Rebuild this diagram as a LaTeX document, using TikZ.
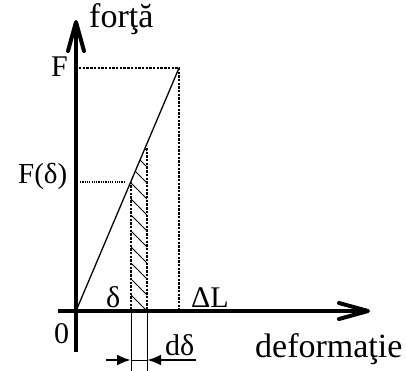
\documentclass[tikz,border=0pt]{standalone}
\usepackage{fontspec}
\setmainfont{Liberation Serif}
\usetikzlibrary{arrows.meta}
\begin{document}
\begin{tikzpicture}[x=1pt,y=-1pt,
  axis/.style={line width=4pt,-{Straight Barb[length=29pt,width=16pt,round]}},
  guide/.style={line width=1.1pt,dash pattern=on 2.4pt off 1.3pt},
  dotguide/.style={line width=1.1pt,dash pattern=on 1.2pt off 1.1pt},
  hatch/.style={line width=0.9pt},
  thin/.style={line width=1pt},
  dimarrow/.style={line width=2.6pt,-{Latex[length=14pt,width=11pt]}},
  lbl/.style={inner sep=0pt,font=\fontsize{30}{30}\selectfont},
  biglbl/.style={inner sep=0pt,font=\fontsize{34}{34}\selectfont}
]
\useasboundingbox (0,0) rectangle (406,371);
% key points
\coordinate (O) at (76,311);
\coordinate (xs) at (58,311);
\coordinate (xe) at (370,311);
\coordinate (ys) at (76,352);
\coordinate (ye) at (76,20);
\coordinate (P) at (179,68);
\coordinate (Fy) at (79,68);
\coordinate (PL) at (179,311);
\coordinate (a0) at (131,311);
\coordinate (a1) at (131,181.6);
\coordinate (b0) at (147,311);
\coordinate (b1) at (147,148);
\coordinate (bt) at (147,143.9);
\coordinate (d0) at (80,182);
\coordinate (d1) at (124,182);
\coordinate (ea) at (131,371);
\coordinate (eb) at (147,371);
\coordinate (ma) at (131,360);
\coordinate (mb) at (147,360);
\coordinate (la) at (106,360);
\coordinate (rb) at (196,360);
% hatching
\begin{scope}
  \clip (a0) -- (a1) -- (bt) -- (b0) -- cycle;
  \foreach \k in {0,...,11}{
    \draw[hatch] (147,311-16*\k) -- (131,295-16*\k);
  }
\end{scope}
% guides
\draw[guide] (Fy) -- (P) -- (PL);
\draw[guide] (a1) -- (a0);
\draw[guide] (b1) -- (b0);
\draw[dotguide] (d0) -- (d1);
% force line
\draw[line width=1.3pt] (O) -- (P);
% dimension
\draw[thin] (a0) -- (ea);
\draw[thin] (b0) -- (eb);
\draw[thin] (ma) -- (mb);
\draw[dimarrow] (la) -- (ma);
\draw[dimarrow] (rb) -- (mb);
% axes
\draw[axis] (ys) -- (ye);
\draw[axis] (xs) -- (xe);
% labels
\node[biglbl,anchor=base west] (fy) at (89,28) {forţă};
\node[biglbl,anchor=base west] (fx) at (255,357) {deformaţie};
\node[lbl,anchor=base east] (F) at (68,77) {F};
\node[lbl,font=\fontsize{29}{29}\selectfont,anchor=base west] (Fd) at (18,184) {F(δ)};
\node[lbl,anchor=base west] (dl) at (106,307) {δ};
\node[lbl,anchor=base west] (DL) at (191,307) {ΔL};
\node[lbl,anchor=base west] (zero) at (54,343) {0};
\node[lbl,anchor=base west] (dd) at (165,355) {dδ};
\end{tikzpicture}
\end{document}
